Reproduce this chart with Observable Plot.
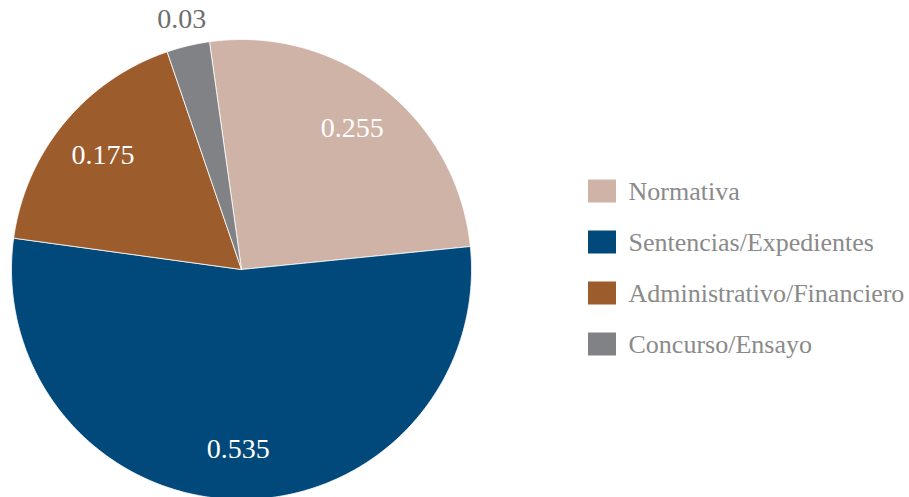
<!DOCTYPE html>
<html><head><meta charset="utf-8">
<script src="https://cdn.jsdelivr.net/npm/d3@7"></script>
<script src="https://cdn.jsdelivr.net/npm/@observablehq/plot@0.6"></script>
<style>
body{margin:0;background:#fff;}
svg text{font-family:"Liberation Serif",serif;}
</style>
</head><body><div id="chart"></div>
<script>
// Data
const categories = ["Normativa", "Sentencias/Expedientes", "Administrativo/Financiero", "Concurso/Ensayo"];
const values = [0.255, 0.535, 0.175, 0.03];
const valueLabels = ["0.255", "0.535", "0.175", "0.03"];
const colors = ["#CFB3A7", "#00497A", "#9D5C2C", "#818286"];

// Layout
const W = 909, H = 497, cx = 241, cy = 269, R = 230, startDeg = -8;
const legendX = 588, legendY0 = 191, legendStep = 51, swW = 28, swH = 23;
const FONT = "Liberation Serif";

const total = d3.sum(values);
let acc = 0;
const arcs = categories.map((c, i) => {
  const a0 = startDeg + acc / total * 360;
  acc += values[i];
  const a1 = startDeg + acc / total * 360;
  return {category: c, value: values[i], label: valueLabels[i], a0, a1, mid: (a0 + a1) / 2};
});
const pt = (deg, r) => { const t = deg * Math.PI / 180; return [cx + r * Math.sin(t), cy - r * Math.cos(t)]; };
const slicePts = arcs.flatMap(s => {
  const n = Math.max(4, Math.ceil((s.a1 - s.a0) * 2));
  const pts = [{category: s.category, x: cx, y: cy}];
  for (let k = 0; k <= n; k++) {
    const [x, y] = pt(s.a0 + (s.a1 - s.a0) * k / n, R);
    pts.push({category: s.category, x, y});
  }
  pts.push({category: s.category, x: cx, y: cy});
  return pts;
});
const labelPts = arcs.map(s => {
  const inside = s.value >= 0.05;
  const [x, y] = pt(s.mid, inside ? R * 0.78 : R * 1.12);
  return {label: s.label, x, y, inside};
});
const legendData = categories.map((c, i) => ({
  category: c,
  x1: legendX, x2: legendX + swW,
  y1: legendY0 + i * legendStep - swH / 2, y2: legendY0 + i * legendStep + swH / 2,
  tx: legendX + swW + 12, ty: legendY0 + i * legendStep
}));

const chart = Plot.plot({
  width: W, height: H, margin: 0,
  x: {domain: [0, W], range: [0, W], axis: null},
  y: {domain: [0, H], range: [0, H], axis: null},
  color: {domain: categories, range: colors},
  style: "background: white; font-family: 'Liberation Serif', serif;",
  marks: [
    Plot.line(slicePts, {x: "x", y: "y", z: "category", fill: "category", stroke: "white", strokeWidth: 0.8, curve: "linear"}),
    Plot.text(labelPts.filter(d => d.inside), {x: "x", y: "y", text: "label", fill: "white", fontSize: 28, fontFamily: FONT}),
    Plot.text(labelPts.filter(d => !d.inside), {x: "x", y: "y", text: "label", fill: "#6e6e6e", fontSize: 28, fontFamily: FONT}),
    Plot.rect(legendData, {x1: "x1", x2: "x2", y1: "y1", y2: "y2", fill: "category"}),
    Plot.text(legendData, {x: "tx", y: "ty", text: "category", textAnchor: "start", fill: "#8a8a8a", fontSize: 26, fontFamily: FONT})
  ]
});
document.getElementById("chart").appendChild(chart);
</script>
</body></html>
